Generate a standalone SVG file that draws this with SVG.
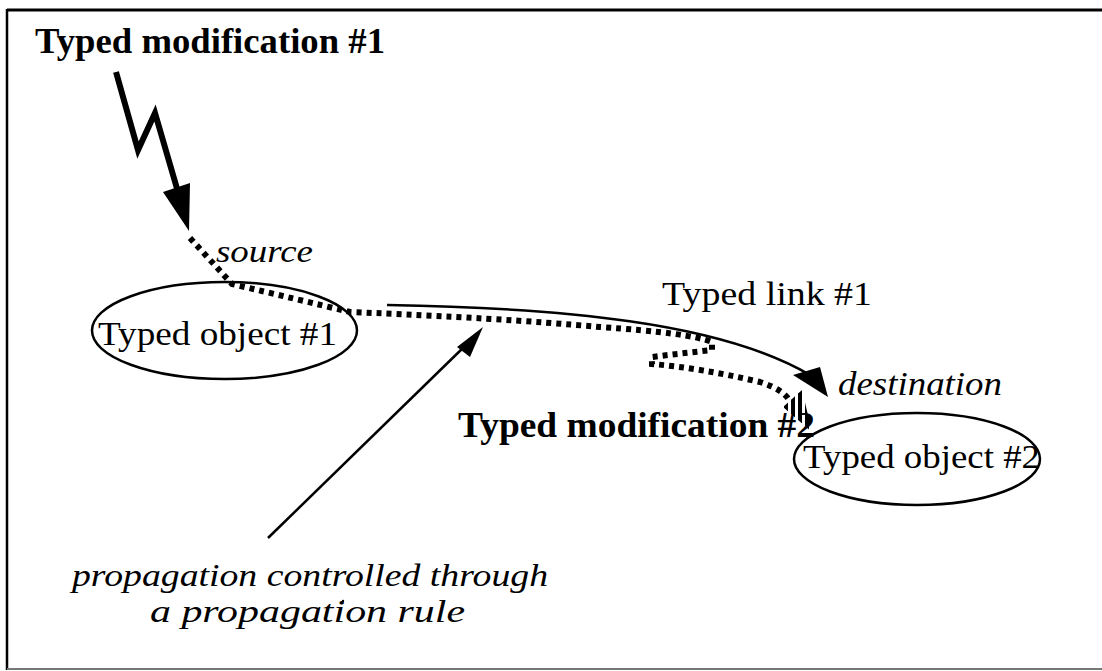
<svg xmlns="http://www.w3.org/2000/svg" width="1102" height="671" viewBox="0 0 1102 671">
<style>
.t{font-family:"Liberation Serif","Times New Roman",serif;fill:#000}
.b{font-weight:bold}
.i{font-style:italic}
.ol{fill:none;stroke:#000;stroke-width:2.5}
.dot{fill:none;stroke:#000;stroke-width:6;stroke-dasharray:5 5}
</style>
<defs>
<pattern id="stripes" width="7" height="10" patternUnits="userSpaceOnUse">
<rect x="0" y="0" width="4" height="10" fill="#000"/>
</pattern>
</defs>
<rect x="0" y="0" width="1102" height="671" fill="#fff"/>
<g id="frame">
<line x1="7" y1="10" x2="1102" y2="10" stroke="#000" stroke-width="3"/>
<line x1="7" y1="9" x2="7" y2="670" stroke="#000" stroke-width="2.5"/>
<line x1="7" y1="669" x2="1102" y2="669" stroke="#777" stroke-width="2"/>
</g>
<g id="connectors">
<path d="M116,72 L138,150 L155,113 L178,192" fill="none" stroke="#000" stroke-width="6" stroke-linejoin="miter"/>
<polygon points="163,192 190,183 189,231" fill="#000"/>
<path class="dot" d="M190,238 L232,284 Q300,300 350,312 Q500,318 600,327 Q690,333 712,342 L712,350 L668,355 L652,357 L652,364 Q700,368 760,382 Q785,390 790,402"/>
<polygon points="783,407 802,390 812,432" fill="url(#stripes)"/>
<path d="M387,305 C560,308 720,322 810,375" fill="none" stroke="#000" stroke-width="2.5"/>
<polygon points="793,375 820,367 828,397" fill="#000"/>
<line x1="268" y1="538" x2="466" y2="345" stroke="#000" stroke-width="2.5"/>
<polygon points="457,347 470,357 483,327" fill="#000"/>
</g>
<g id="mod1"><text class="t b" x="35" y="53" font-size="35" textLength="350" lengthAdjust="spacingAndGlyphs">Typed modification #1</text></g>
<g id="source"><text class="t i" x="216" y="262" font-size="32" textLength="97" lengthAdjust="spacingAndGlyphs">source</text></g>
<g id="obj1">
<ellipse class="ol" cx="224.5" cy="330.5" rx="132.5" ry="48.5"/>
<text class="t" x="98" y="345" font-size="34" textLength="239" lengthAdjust="spacingAndGlyphs">Typed object #1</text>
</g>
<g id="link1"><text class="t" x="662" y="305" font-size="34" textLength="210" lengthAdjust="spacingAndGlyphs">Typed link #1</text></g>
<g id="dest"><text class="t i" x="838" y="395" font-size="33" textLength="164" lengthAdjust="spacingAndGlyphs">destination</text></g>
<g id="mod2"><text class="t b" x="458" y="437" font-size="35" textLength="357" lengthAdjust="spacingAndGlyphs">Typed modification #2</text></g>
<g id="obj2">
<ellipse class="ol" cx="917" cy="459" rx="123" ry="46"/>
<text class="t" x="803" y="468" font-size="34" textLength="237" lengthAdjust="spacingAndGlyphs">Typed object #2</text>
</g>
<g id="rule">
<text class="t i" x="72" y="586" font-size="32" textLength="476" lengthAdjust="spacingAndGlyphs">propagation controlled through</text>
<text class="t i" x="150" y="622" font-size="32" textLength="315" lengthAdjust="spacingAndGlyphs">a propagation rule</text>
</g>
<circle cx="343" cy="601" r="1.2" fill="#000"/>
</svg>
